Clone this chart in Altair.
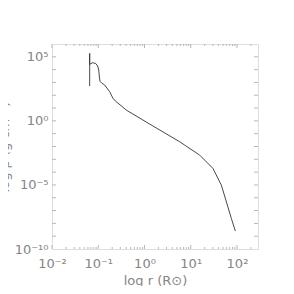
import altair as alt
import pandas as pd
import numpy as np

# curve (log10 values), in drawing order
log_r = [-1.185, -1.185, -1.185, -1.120, -1.055, -1.012, -0.990, -0.973, -0.958,
         -0.925, -0.861, -0.752, -0.681, -0.629, -0.391, 0.112, 0.761, 0.869,
         1.193, 1.481, 1.663, 1.771, 1.879, 1.965]
log_rho = [2.72, 5.27, 4.41, 4.54, 4.48, 4.28, 3.97, 3.34, 3.07,
           2.95, 2.80, 2.27, 1.76, 1.55, 0.84, -0.25, -1.63, -1.89,
           -2.67, -3.71, -5.02, -6.32, -7.62, -8.60]

x_major = [0.01, 0.1, 1, 10, 100]
x_minor_mult = [2, 3, 4, 5, 6, 7, 8, 9]
y_label_vals = [1e-10, 1e-5, 1, 1e5]
y_tick_vals = [10.0 ** k for k in range(-9, 6)]
x_labels = ['10⁻²', '10⁻¹', '10⁰', '10¹', '10²']
y_labels = ['10⁻¹⁰', '10⁻⁵', '10⁰', '10⁵']

W, H = 206, 205
XDOM = [0.01, 285]
YDOM = [1e-10, 1e6]
GRAY = '#b8b8b8'
TXT = '#858585'
FONT = 'DejaVu Sans'

df = pd.DataFrame({
    'r': [10 ** v for v in log_r],
    'rho': [10 ** v for v in log_rho],
    'i': list(range(len(log_r))),
})

xs = alt.Scale(type='log', domain=XDOM, nice=False)
ys = alt.Scale(type='log', domain=YDOM, nice=False)

x_lab_expr = "[" + ",".join("'%s'" % s for s in x_labels) + "][round(log(datum.value)/LN10)+2]"
y_lab_expr = "[" + ",".join("'%s'" % s for s in y_labels) + "][round(log(datum.value)/LN10/5)+2]"

line = alt.Chart(df).mark_line(color='#333333', strokeWidth=0.9, clip=True).encode(
    x=alt.X('r:Q', scale=xs,
            axis=alt.Axis(values=x_major, ticks=False, domain=False, grid=False,
                          labelExpr=x_lab_expr, labelPadding=8, labelFontSize=13,
                          labelColor=TXT, labelFont=FONT, labelFlush=False,
                          title='log r (R⊙)', titleFont=FONT, titleFontSize=13,
                          titleFontWeight='normal', titleColor=TXT, titlePadding=4)),
    y=alt.Y('rho:Q', scale=ys,
            axis=alt.Axis(values=y_label_vals, ticks=False, domain=False, grid=False,
                          labelExpr=y_lab_expr, labelPadding=4, labelFontSize=13,
                          labelColor=TXT, labelFont=FONT, labelFlush=False,
                          title='log ρ (g cm⁻³)', titleFont=FONT, titleFontSize=13,
                          titleFontWeight='normal', titleColor=TXT,
                          titleX=-41, titleBaseline='bottom')),
    order='i:Q',
)

xmin_vals = [m * d for d in x_major for m in x_minor_mult if m * d < XDOM[1]]
dxmaj = pd.DataFrame({'v': x_major})
dxmin = pd.DataFrame({'v': xmin_vals})
dy = pd.DataFrame({'v': y_tick_vals})

def xt(data, y0, y1):
    return alt.Chart(data).mark_rule(color=GRAY, strokeWidth=1).encode(
        x=alt.X('v:Q', scale=xs), y=alt.value(y0), y2=alt.value(y1))

def yt(x0, x1):
    return alt.Chart(dy).mark_rule(color=GRAY, strokeWidth=1).encode(
        y=alt.Y('v:Q', scale=ys), x=alt.value(x0), x2=alt.value(x1))

ticks = [
    xt(dxmaj, H, H - 4), xt(dxmin, H, H - 2),
    xt(dxmaj, 0, 4), xt(dxmin, 0, 2),
    yt(0, 4), yt(W, W - 4),
]

chart = alt.layer(line, *ticks).properties(
    width=W, height=H,
    autosize=alt.AutoSizeParams(type='none'),
    padding={'left': 44, 'top': 36, 'right': 28, 'bottom': 37},
).configure_view(stroke=GRAY, strokeWidth=1.5).configure(background='white')

chart.save('out.html', embed_options={'renderer': 'svg', 'actions': False})
